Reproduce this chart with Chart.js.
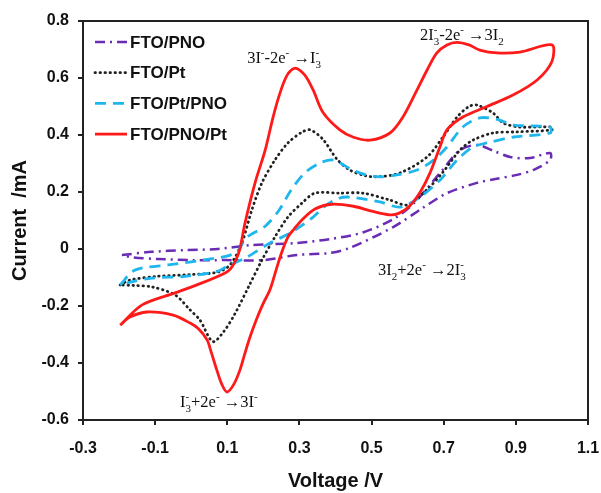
<!DOCTYPE html>
<html>
<head>
<meta charset="utf-8">
<script src="https://cdn.jsdelivr.net/npm/chart.js@4.4.0/dist/chart.umd.min.js"></script>
<style>
  html, body { margin: 0; padding: 0; background: #fff; }
  #wrap { width: 601px; height: 493px; }
</style>
</head>
<body>
<div id="wrap"><canvas id="cv" width="601" height="493"></canvas></div>
<script>
// Cyclic voltammograms (V, mA), forward scan then reverse
const seriesNames = ['FTO/PNO', 'FTO/Pt', 'FTO/Pt/PNO', 'FTO/PNO/Pt'];

const pnoV = [-0.192, -0.109, -0.017, 0.074, 0.169, 0.293, 0.385, 0.476, 0.56, 0.615, 0.69, 0.745, 0.792, 0.837, 0.884, 0.939, 0.995,
              0.995, 0.948, 0.903, 0.84, 0.792, 0.709, 0.643, 0.56, 0.44, 0.385, 0.293, 0.199, 0.094, 0.002, -0.092, -0.16, -0.192];
const pnoI = [-0.021, -0.01, -0.004, 0.0, 0.014, 0.021, 0.035, 0.058, 0.105, 0.158, 0.267, 0.347, 0.365, 0.345, 0.323, 0.319, 0.337,
              0.312, 0.277, 0.26, 0.245, 0.232, 0.196, 0.145, 0.077, 0.004, -0.014, -0.021, -0.039, -0.039, -0.039, -0.035, -0.03, -0.021];

const ptV = [-0.197, -0.17, -0.095, -0.003, 0.074, 0.108, 0.14, 0.168, 0.196, 0.232, 0.268, 0.307, 0.33, 0.365, 0.404, 0.44, 0.48, 0.515, 0.579, 0.654, 0.698, 0.737, 0.77, 0.792, 0.837, 0.865, 0.911, 1.0,
             1.0, 0.903, 0.837, 0.781, 0.745, 0.698, 0.655, 0.6, 0.55, 0.476, 0.413, 0.343, 0.307, 0.268, 0.232, 0.196, 0.16, 0.12, 0.09, 0.06, 0.024, -0.003, -0.045, -0.109, -0.16, -0.197];
const ptI = [-0.126, -0.109, -0.096, -0.09, -0.081, -0.055, 0.02, 0.137, 0.232, 0.312, 0.372, 0.41, 0.418, 0.385, 0.315, 0.277, 0.258, 0.253, 0.267, 0.323, 0.393, 0.463, 0.5, 0.505, 0.477, 0.442, 0.428, 0.428,
             0.418, 0.411, 0.407, 0.382, 0.347, 0.27, 0.21, 0.155, 0.172, 0.196, 0.196, 0.196, 0.161, 0.112, 0.042, -0.039, -0.13, -0.23, -0.29, -0.325, -0.249, -0.214, -0.161, -0.133, -0.128, -0.126];

const ptPnoV = [-0.197, -0.156, -0.064, 0.03, 0.121, 0.155, 0.205, 0.243, 0.277, 0.315, 0.357, 0.395, 0.44, 0.48, 0.523, 0.57, 0.626, 0.67, 0.709, 0.753, 0.8, 0.848, 0.894, 0.995,
                0.995, 0.894, 0.82, 0.781, 0.737, 0.69, 0.634, 0.58, 0.523, 0.44, 0.41, 0.37, 0.338, 0.274, 0.218, 0.155, 0.1, 0.074, -0.017, -0.109, -0.165, -0.197];
const ptPnoI = [-0.126, -0.074, -0.056, -0.039, -0.015, 0.042, 0.08, 0.135, 0.207, 0.267, 0.302, 0.312, 0.282, 0.262, 0.253, 0.26, 0.277, 0.31, 0.358, 0.428, 0.46, 0.455, 0.435, 0.428,
                0.407, 0.393, 0.372, 0.358, 0.312, 0.242, 0.182, 0.147, 0.165, 0.182, 0.178, 0.15, 0.112, 0.056, 0.021, -0.028, -0.06, -0.078, -0.096, -0.102, -0.115, -0.126];

const pnoPtV = [-0.197, -0.136, -0.045, 0.03, 0.094, 0.11, 0.125, 0.135, 0.149, 0.177, 0.205, 0.227, 0.246, 0.266, 0.288, 0.315, 0.338, 0.365, 0.412, 0.45, 0.496, 0.551, 0.587, 0.626, 0.654, 0.681, 0.709, 0.737, 0.77, 0.8, 0.848, 0.911, 1.0,
                1.0, 0.959, 0.892, 0.82, 0.753, 0.709, 0.69, 0.662, 0.635, 0.605, 0.575, 0.55, 0.5, 0.45, 0.39, 0.343, 0.307, 0.285, 0.268, 0.25, 0.235, 0.218, 0.2, 0.18, 0.163, 0.148, 0.135, 0.118, 0.099, 0.085, 0.071, 0.055, 0.044, 0.02, -0.003, -0.05, -0.123, -0.17, -0.197];
const pnoPtI = [-0.267, -0.196, -0.154, -0.119, -0.084, -0.068, -0.035, 0.0, 0.09, 0.232, 0.347, 0.463, 0.547, 0.61, 0.635, 0.61, 0.558, 0.48, 0.418, 0.392, 0.382, 0.407, 0.463, 0.558, 0.628, 0.688, 0.716, 0.725, 0.716, 0.698, 0.688, 0.691, 0.716,
                0.658, 0.593, 0.54, 0.5, 0.463, 0.418, 0.36, 0.267, 0.2, 0.15, 0.125, 0.12, 0.133, 0.15, 0.157, 0.14, 0.102, 0.07, 0.042, -0.015, -0.075, -0.144, -0.19, -0.25, -0.309, -0.37, -0.425, -0.475, -0.502, -0.475, -0.425, -0.36, -0.319, -0.28, -0.26, -0.232, -0.221, -0.239, -0.267];

const xTicks = [-0.3, -0.1, 0.1, 0.3, 0.5, 0.7, 0.9, 1.1];
const xTickLabels = ['-0.3', '-0.1', '0.1', '0.3', '0.5', '0.7', '0.9', '1.1'];
const yTicks = [-0.6, -0.4, -0.2, 0, 0.2, 0.4, 0.6, 0.8];
const yTickLabels = ['-0.6', '-0.4', '-0.2', '0', '0.2', '0.4', '0.6', '0.8'];

// reaction labels: [text with _sub ^sup, V, I at baseline-left]
const reactions = [
  ['3I^--2e^- \u2192I_3^-', 0.155, 0.653],
  ['2I_3^--2e^- \u21923I_2', 0.634, 0.733],
  ['3I_2+2e^- \u21922I_3^-', 0.518, -0.091],
  ['I_3^-+2e^- \u21923I^-', -0.031, -0.554]
];

const toPts = (vs, is) => vs.map((v, k) => ({ x: v, y: is[k] }));

const styles = [
  { color: '#6a2bb5', dash: [10, 5, 2, 5], width: 2.5, cap: 'butt' },
  { color: '#222222', dash: [0.5, 4.5], width: 2.8, cap: 'round' },
  { color: '#1fb6ee', dash: [11, 7], width: 2.8, cap: 'butt' },
  { color: '#ff1a1a', dash: [], width: 2.8, cap: 'butt' }
];
const seriesData = [toPts(pnoV, pnoI), toPts(ptV, ptI), toPts(ptPnoV, ptPnoI), toPts(pnoPtV, pnoPtI)];

const datasets = seriesNames.map((name, k) => ({
  label: name,
  data: seriesData[k],
  showLine: true,
  borderColor: styles[k].color,
  borderWidth: styles[k].width,
  borderDash: styles[k].dash,
  borderCapStyle: styles[k].cap,
  pointRadius: 0,
  fill: false,
  tension: 0.3,
  order: 3 - k
}));

function drawChem(ctx, str, x, y, size) {
  const big = size + 'px "Liberation Serif", "Times New Roman", serif';
  const small = Math.round(size * 0.65) + 'px "Liberation Serif", "Times New Roman", serif';
  ctx.textBaseline = 'alphabetic';
  ctx.textAlign = 'left';
  let cx = x, i = 0;
  while (i < str.length) {
    const c = str[i];
    if (c === '_' || c === '^') {
      ctx.font = small;
      const ch = str[i + 1];
      const dy = c === '_' ? size * 0.28 : -size * 0.42;
      ctx.fillText(ch, cx, y + dy);
      let w = ctx.measureText(ch).width;
      i += 2;
      if (c === '_' && str[i] === '^') {
        const ch2 = str[i + 1];
        ctx.fillText(ch2, cx, y - size * 0.42);
        w = Math.max(w, ctx.measureText(ch2).width);
        i += 2;
      }
      cx += w;
    } else {
      ctx.font = big;
      ctx.fillText(c, cx, y);
      cx += ctx.measureText(c).width;
      i += 1;
    }
  }
}

const decor = {
  id: 'decor',
  beforeDraw(chart) {
    const ctx = chart.ctx;
    ctx.save();
    ctx.fillStyle = '#fff';
    ctx.fillRect(0, 0, chart.width, chart.height);
    ctx.restore();
  },
  afterDraw(chart) {
    const { ctx, chartArea: a, scales } = chart;
    ctx.save();
    // frame
    ctx.strokeStyle = '#222';
    ctx.lineWidth = 2;
    ctx.strokeRect(a.left, a.top, a.right - a.left, a.bottom - a.top);

    // legend in the upper left corner
    const x0 = a.left + 12, y0 = a.top + 21, step = 30.7;
    chart.data.datasets.forEach((ds, k) => {
      const yy = y0 + k * step;
      ctx.beginPath();
      ctx.strokeStyle = ds.borderColor;
      ctx.lineWidth = ds.borderWidth;
      ctx.setLineDash(ds.borderDash);
      ctx.lineCap = ds.borderCapStyle;
      ctx.moveTo(x0, yy);
      ctx.lineTo(x0 + 32, yy);
      ctx.stroke();
      ctx.setLineDash([]);
      ctx.lineCap = 'butt';
      ctx.fillStyle = '#111';
      ctx.font = 'bold 17px "Liberation Sans", Arial, sans-serif';
      ctx.textBaseline = 'middle';
      ctx.fillText(ds.label, x0 + 35, yy + 1);
    });

    // reaction labels
    ctx.fillStyle = '#111';
    reactions.forEach(([txt, v, c]) => {
      drawChem(ctx, txt, scales.x.getPixelForValue(v), scales.y.getPixelForValue(c), 16.5);
    });
    ctx.restore();
  }
};

const axisFont = { family: '"Liberation Sans", Arial, sans-serif', weight: 'bold' };

new Chart(document.getElementById('cv'), {
  type: 'scatter',
  data: { datasets },
  options: {
    responsive: false,
    animation: false,
    layout: { padding: { left: 0, right: 13, top: 21, bottom: 0 } },
    plugins: { legend: { display: false }, tooltip: { enabled: false } },
    scales: {
      x: {
        type: 'linear', min: -0.3, max: 1.1,
        afterBuildTicks: s => { s.ticks = xTicks.map(v => ({ value: v })); },
        afterFit: s => { s.height = 73; s.paddingLeft = 0; s.paddingRight = 0; },
        ticks: { callback: (v, k) => xTickLabels[k], color: '#111', padding: 14, maxRotation: 0, autoSkip: false,
                 font: { ...axisFont, size: 16 } },
        grid: { display: true, drawOnChartArea: false, drawTicks: true, tickLength: 5, color: '#222', lineWidth: 2 },
        border: { display: false },
        title: { display: true, text: 'Voltage /V', color: '#111', padding: { top: 0, bottom: 0 },
                 font: { ...axisFont, size: 20 } }
      },
      y: {
        type: 'linear', min: -0.6, max: 0.8,
        afterBuildTicks: s => { s.ticks = yTicks.map(v => ({ value: v })); },
        afterFit: s => { s.width = 83; s.paddingTop = 0; s.paddingBottom = 0; },
        ticks: { callback: (v, k) => yTickLabels[k], color: '#111', padding: 9, autoSkip: false,
                 font: { ...axisFont, size: 16 } },
        grid: { display: true, drawOnChartArea: false, drawTicks: true, tickLength: 5, color: '#222', lineWidth: 2 },
        border: { display: false },
        title: { display: true, text: 'Current  /mA', color: '#111', padding: { top: 8, bottom: 0 },
                 font: { ...axisFont, size: 20 } }
      }
    }
  },
  plugins: [decor]
});
</script>
</body>
</html>
